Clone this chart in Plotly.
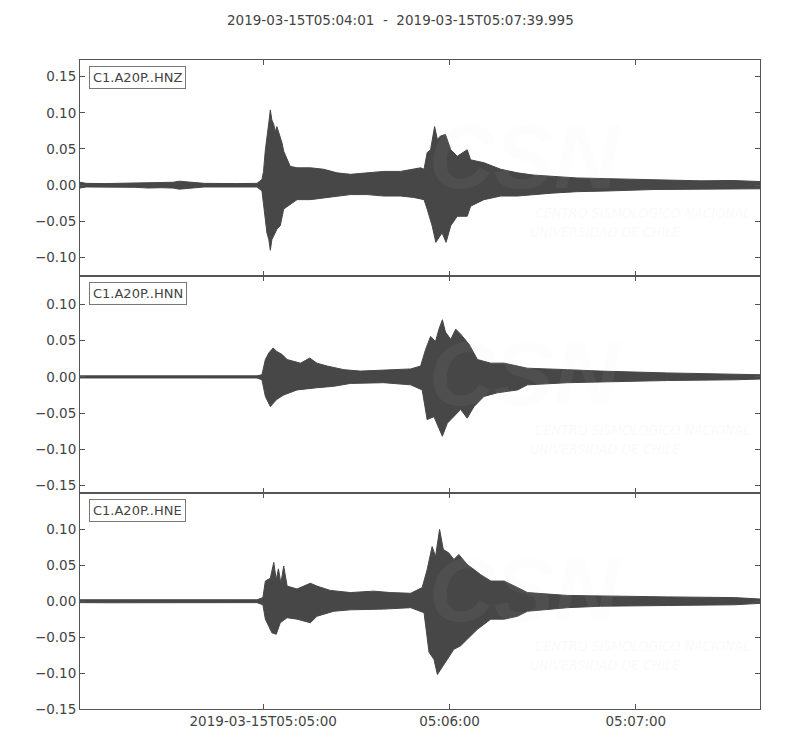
import pandas as pd
import plotly.graph_objects as go
from plotly.subplots import make_subplots

START = "2019-03-15 05:04:01"
END = "2019-03-15 05:07:39.995"
TITLE = "2019-03-15T05:04:01  -  2019-03-15T05:07:39.995"
channels = ["C1.A20P..HNZ", "C1.A20P..HNN", "C1.A20P..HNE"]

# envelope (max / min per time), seconds after START
hnz_up_t = [0, 2, 8, 18, 22, 26, 30, 32, 40, 50, 57,
            58.6, 59.1, 59.7, 60.2, 60.8, 61.3, 61.8, 62.4, 62.9, 63.4,
            64.5, 65.1, 65.6, 66.7, 67.7, 69.9, 74.2, 78.5, 82.8, 87.1,
            92.5, 97.8, 103.2, 107.5, 109.7, 110.8, 111.8, 112.9, 114.2, 115.1,
            116.1, 117.7, 119.4, 121.5, 124.7, 125.8, 130.1, 135.5, 140.9,
            146, 152, 160, 170, 185, 200, 210, 219]
hnz_up_v = [0.004, 0.0025, 0.0022, 0.003, 0.004, 0.0035, 0.004, 0.0055, 0.0025, 0.0022, 0.0025,
            0.0079, 0.019, 0.049, 0.063, 0.086, 0.104, 0.090, 0.084, 0.074, 0.081,
            0.068, 0.058, 0.047, 0.035, 0.026, 0.024, 0.024, 0.022, 0.017, 0.015,
            0.017, 0.019, 0.019, 0.022, 0.024, 0.022, 0.045, 0.049, 0.081, 0.063,
            0.068, 0.070, 0.049, 0.040, 0.049, 0.035, 0.031, 0.022, 0.017,
            0.014, 0.012, 0.010, 0.009, 0.007, 0.006, 0.0065, 0.005]
hnz_lo_t = [0, 2, 8, 18, 22, 26, 30, 32, 40, 50, 57,
            58.6, 59.1, 59.7, 60.2, 60.8, 61.3, 61.8, 62.4, 63.4, 64.5,
            65.6, 66.7, 69.9, 74.2, 78.5, 82.8, 87.1, 92.5, 97.8, 103.2,
            107.5, 110.8, 111.8, 113.4, 114.6, 116.6, 117.9, 119.4, 121.5, 124.7,
            125.8, 130.1, 135.5, 140.9,
            146, 152, 160, 170, 185, 200, 210, 219]
hnz_lo_v = [-0.004, -0.0025, -0.0022, -0.003, -0.004, -0.0035, -0.004, -0.0055, -0.0025, -0.0022, -0.0025,
            -0.008, -0.020, -0.047, -0.066, -0.075, -0.090, -0.075, -0.070, -0.061, -0.056,
            -0.033, -0.029, -0.020, -0.020, -0.017, -0.015, -0.013, -0.013, -0.015, -0.015,
            -0.017, -0.020, -0.033, -0.056, -0.079, -0.066, -0.079, -0.056, -0.043, -0.043,
            -0.029, -0.020, -0.015, -0.015,
            -0.013, -0.011, -0.009, -0.008, -0.006, -0.006, -0.005, -0.005]

hnn_up_t = [0, 20, 40, 57,
            58.6, 59.7, 60.8, 62.2, 63.4, 65.1, 66.7, 68.8, 71.0, 74.0,
            76.3, 79.6, 85.0, 90.3, 95.7, 101.1, 106.5, 109.7, 111.3, 112.9,
            114.5, 115.6, 116.7, 117.7, 119.4, 121.0, 122.6, 125.3, 128.0, 132.3,
            136.6, 140.9, 144.1, 157, 167.7, 189.2, 210.8, 219]
hnn_up_v = [0.0015, 0.0018, 0.0015, 0.0015,
            0.003, 0.024, 0.033, 0.040, 0.035, 0.031, 0.024, 0.022, 0.019, 0.026,
            0.019, 0.015, 0.010, 0.008, 0.009, 0.010, 0.011, 0.015, 0.038, 0.056,
            0.049, 0.066, 0.079, 0.062, 0.052, 0.066, 0.059, 0.045, 0.024, 0.019,
            0.019, 0.015, 0.012, 0.010, 0.008, 0.0055, 0.004, 0.003]
hnn_lo_t = [0, 20, 40, 57,
            58.6, 59.7, 61.3, 63.4, 65.6, 69.9, 76.3, 81.7, 87.1, 97.8,
            106.5, 110.2, 111.8, 114.0, 116.7, 118.3, 120.4, 122.6, 124.7, 126.9,
            130.1, 134.4, 140.9, 144.1, 157, 167.7, 189.2, 210.8, 219]
hnn_lo_v = [-0.0015, -0.0018, -0.0015, -0.0015,
            -0.004, -0.027, -0.041, -0.031, -0.025, -0.018, -0.015, -0.013, -0.009, -0.008,
            -0.011, -0.018, -0.059, -0.055, -0.082, -0.064, -0.055, -0.045, -0.057, -0.041,
            -0.027, -0.022, -0.018, -0.011, -0.008, -0.007, -0.005, -0.004, -0.003]

hne_up_t = [0, 10, 20, 30, 40, 50, 57,
            58.9, 59.7, 61.3, 62.4, 63.2, 63.9, 64.7, 65.6, 66.7, 69.9,
            74.2, 76.3, 80.6, 87.1, 94.6, 100.0, 106.5, 110.2, 111.8, 113.4,
            114.5, 115.8, 117.0, 118.8, 120.4, 122.0, 124.7, 126.9, 129.0, 132.3,
            136.6, 140.9, 144.1, 157, 167.7, 189.2, 210.8, 219]
hne_up_v = [0.002, 0.0022, 0.002, 0.0025, 0.0022, 0.002, 0.002,
            0.005, 0.028, 0.032, 0.054, 0.030, 0.045, 0.025, 0.049, 0.021, 0.017,
            0.025, 0.021, 0.015, 0.012, 0.014, 0.012, 0.011, 0.019, 0.044, 0.076,
            0.062, 0.100, 0.072, 0.067, 0.058, 0.065, 0.051, 0.044, 0.037, 0.028,
            0.028, 0.019, 0.012, 0.008, 0.007, 0.006, 0.005, 0.003]
hne_lo_t = [0, 10, 20, 30, 40, 50, 57,
            58.9, 59.7, 60.8, 61.8, 63.2, 64.5, 66.7, 69.9, 74.2, 76.3,
            81.7, 87.1, 97.8, 106.5, 110.8, 112.4, 114.0, 115.1, 116.7, 118.3,
            120.4, 122.6, 124.7, 128.0, 132.3, 136.6, 140.9, 144.1, 157, 167.7,
            189.2, 210.8, 219]
hne_lo_v = [-0.002, -0.0022, -0.002, -0.0025, -0.0022, -0.002, -0.002,
            -0.005, -0.025, -0.035, -0.044, -0.046, -0.030, -0.023, -0.025, -0.030, -0.021,
            -0.014, -0.012, -0.011, -0.009, -0.016, -0.071, -0.081, -0.102, -0.090, -0.081,
            -0.067, -0.062, -0.053, -0.039, -0.025, -0.025, -0.021, -0.014, -0.009, -0.007,
            -0.006, -0.005, -0.003]

y_ranges = [[-0.126, 0.173], [-0.160, 0.139], [-0.150, 0.151]]
y_ticks = [[-0.10, -0.05, 0.0, 0.05, 0.10, 0.15],
           [-0.15, -0.10, -0.05, 0.0, 0.05, 0.10],
           [-0.15, -0.10, -0.05, 0.0, 0.05, 0.10]]
x_tickvals = ["2019-03-15 05:05:00", "2019-03-15 05:06:00", "2019-03-15 05:07:00"]
x_ticktext = ["2019-03-15T05:05:00", "05:06:00", "05:07:00"]

traces = [(hnz_up_t, hnz_up_v, hnz_lo_t, hnz_lo_v),
          (hnn_up_t, hnn_up_v, hnn_lo_t, hnn_lo_v),
          (hne_up_t, hne_up_v, hne_lo_t, hne_lo_v)]

base = pd.Timestamp(START)


def to_time(secs):
    return [(base + pd.Timedelta(seconds=s)).strftime("%Y-%m-%d %H:%M:%S.%f") for s in secs]


FONT = "DejaVu Sans"
TXT = "#444444"
WAVE = "#474747"
FRAME = "#555555"
WM_FONT = "DejaVu Sans Condensed, Liberation Sans, sans-serif"

fig = make_subplots(rows=3, cols=1, shared_xaxes=True, vertical_spacing=0)

for i, (ut, uv, lt, lv) in enumerate(traces):
    assert len(ut) == len(uv) and len(lt) == len(lv)
    xs = to_time(ut) + to_time(lt[::-1])
    ys = list(uv) + list(lv[::-1])
    fig.add_trace(go.Scatter(x=xs, y=ys, mode="lines", fill="toself",
                             fillcolor=WAVE, line=dict(color=WAVE, width=1),
                             hoverinfo="skip", showlegend=False),
                  row=i + 1, col=1)

for i in range(3):
    r = i + 1
    fig.update_yaxes(range=y_ranges[i], tickvals=y_ticks[i], tickformat=".2f",
                     showgrid=False, zeroline=False, showline=True, mirror="ticks",
                     linecolor=FRAME, linewidth=1, ticks="inside", ticklen=5,
                     tickcolor=FRAME, automargin=False,
                     tickfont=dict(family=FONT, size=13.5, color=TXT),
                     row=r, col=1)
    fig.update_xaxes(type="date", range=[START, END], tickvals=x_tickvals,
                     ticktext=x_ticktext, showticklabels=(r == 3),
                     showgrid=False, zeroline=False, showline=True, mirror="ticks",
                     linecolor=FRAME, linewidth=1, ticks="inside", ticklen=5,
                     tickcolor=FRAME, automargin=False,
                     tickfont=dict(family=FONT, size=13.5, color=TXT),
                     row=r, col=1)

annotations = []
for i, name in enumerate(channels):
    ax = "x" if i == 0 else f"x{i + 1}"
    ay = "y" if i == 0 else f"y{i + 1}"
    annotations.append(dict(text=name, xref=f"{ax} domain", yref=f"{ay} domain",
                            x=0.013, y=0.972, xanchor="left", yanchor="top",
                            showarrow=False, bgcolor="white", bordercolor="#777777",
                            borderwidth=1, borderpad=3,
                            font=dict(family=FONT, size=13, color=TXT)))
    # faint watermark
    annotations.append(dict(text="<b><i>CSN</i></b>", xref=f"{ax} domain", yref=f"{ay} domain",
                            x=0.655, y=0.55, showarrow=False,
                            font=dict(family="Liberation Sans", size=90,
                                      color="rgba(225,225,225,0.06)")))
    annotations.append(dict(text="<i>CENTRO SISMOLÓGICO NACIONAL</i>",
                            xref=f"{ax} domain", yref=f"{ay} domain",
                            x=0.666, y=0.245, xanchor="left", showarrow=False,
                            font=dict(family=WM_FONT, size=14,
                                      color="rgba(215,215,215,0.15)")))
    annotations.append(dict(text="<i>UNIVERSIDAD DE CHILE</i>",
                            xref=f"{ax} domain", yref=f"{ay} domain",
                            x=0.659, y=0.157, xanchor="left", showarrow=False,
                            font=dict(family=WM_FONT, size=14,
                                      color="rgba(215,215,215,0.15)")))

annotations.append(dict(text=TITLE, xref="paper", yref="paper", x=320 / 680,
                        y=1 + 40 / 649, xanchor="center", yanchor="middle",
                        showarrow=False, font=dict(family=FONT, size=13.5, color=TXT)))

fig.update_layout(width=800, height=750,
                  margin=dict(l=80, r=40, t=60, b=41),
                  paper_bgcolor="white", plot_bgcolor="white",
                  annotations=annotations,
                  font=dict(family=FONT, color=TXT))

fig.write_html("out.html", config={"displayModeBar": False},
               post_script="document.body.style.margin='0';document.body.style.padding='0';")
